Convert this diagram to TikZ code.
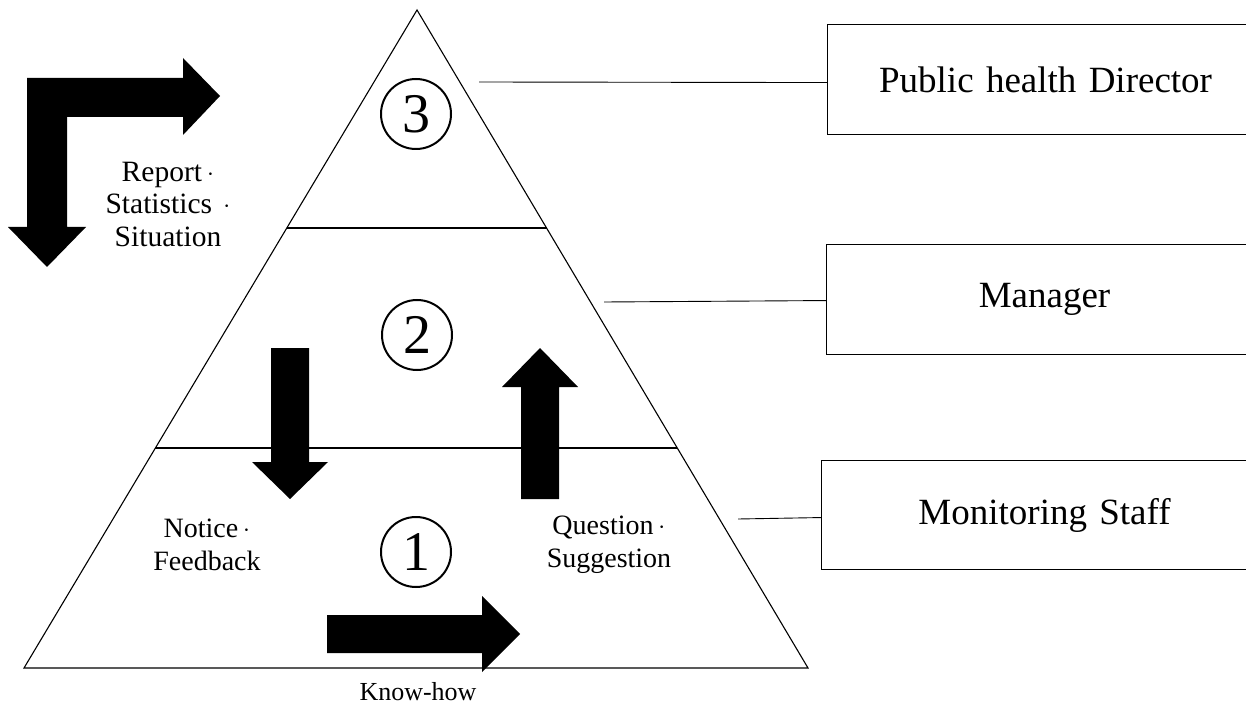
\documentclass[tikz,border=0pt]{standalone}
\usepackage{fontspec}
\setmainfont{Liberation Serif}
\usetikzlibrary{calc}
\begin{document}
\begin{tikzpicture}[x=1pt,y=-1pt,
  level/.style={draw,line width=1.1pt},
  rolebox/.style={draw,line width=1.1pt,anchor=north west,minimum width=440pt,
    minimum height=110pt,inner sep=0pt,font=\fontsize{37}{44}\selectfont,
    text width=430pt,align=center},
  tier/.style={draw,circle,line width=2pt,minimum size=70pt,inner sep=0pt,
    font=\fontsize{56}{60}\selectfont},
  tag/.style={align=center,font=\fontsize{28}{33}\selectfont},
  blockarrow/.style={fill=black,draw=none},
  link/.style={line width=0.9pt}]
\useasboundingbox (0,0) rectangle (1246,708);

% pyramid
\coordinate (apex) at (417,10);
\coordinate (bl) at (24,668);
\coordinate (br) at (808,668);
\draw[level] (apex) -- (bl) -- (br) -- cycle;
\draw[level] ($(apex)!0.3313!(bl)$) -- ($(apex)!0.3313!(br)$);
\draw[level] ($(apex)!0.6657!(bl)$) -- ($(apex)!0.6657!(br)$);

% tier numbers
\node[tier] (n3) at (416,114) {3};
\node[tier] (n2) at (417,335) {2};
\node[tier] (n1) at (416,552) {1};

% role boxes
\node[rolebox] (dir) at (827,24) {\hspace*{-4pt}Public health Director};
\node[rolebox] (mgr) at (826,244) {\hspace*{-4pt}Manager};
\node[rolebox,minimum height=109pt] (stf) at (821,460) {\hspace*{6pt}Monitoring Staff};

% leader lines
\coordinate (t3) at (479,82);
\coordinate (t2) at (604,302);
\coordinate (t1) at (738,519);
\draw[link] (t3) -- ([yshift=-3pt]dir.west);
\draw[link] (t2) -- ([yshift=-1pt]mgr.west);
\draw[link] (t1) -- ([yshift=-2.5pt]stf.west);

% block arrows
\fill[blockarrow] (27,227) -- (27,78) -- (183,78) -- (183,58) -- (220,96)
  -- (183,135) -- (183,117) -- (67,117) -- (67,227) -- (86,227) -- (47,267)
  -- (8,227) -- cycle;
\fill[blockarrow] (271,348) -- (309,348) -- (309,462) -- (328,462) -- (290,499)
  -- (252,462) -- (271,462) -- cycle;
\fill[blockarrow] (521,499) -- (559,499) -- (559,387) -- (578,387) -- (540,348)
  -- (502,387) -- (521,387) -- cycle;
\fill[blockarrow] (327,615) -- (482,615) -- (482,596) -- (520,634) -- (482,672)
  -- (482,653) -- (327,653) -- cycle;

% arrow labels
\node[tag,font=\fontsize{29.5}{32.5}\selectfont] (report) at (168,204)
  {Report\,{\fontsize{22}{22}\selectfont·}\\Statistics\hspace{11pt}{\fontsize{22}{22}\selectfont·}\\Situation};
\node[tag] (notice) at (207,545) {Notice\,{\fontsize{22}{22}\selectfont·}\\Feedback};
\node[tag] (question) at (609,545) {Question\,{\fontsize{22}{22}\selectfont·}\\Suggestion};
\node[tag,font=\fontsize{26}{30}\selectfont] (knowhow) at (418,692) {Know-how};
\end{tikzpicture}
\end{document}
